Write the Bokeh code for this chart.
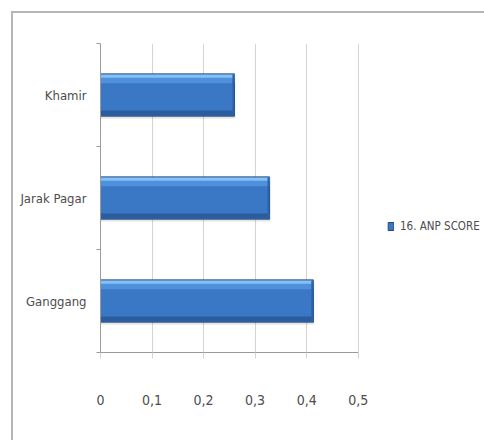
from bokeh.plotting import figure
from bokeh.models import Range1d, FixedTicker, Legend, LegendItem, ColumnDataSource
from bokeh.embed import file_html
from bokeh.resources import INLINE

# Data: categories listed bottom to top, with their ANP scores
categories = ["Ganggang", "Jarak Pagar", "Khamir"]
scores = [0.413, 0.328, 0.26]
series_name = "16. ANP SCORE"
x_ticks = [0, 0.1, 0.2, 0.3, 0.4, 0.5]
x_tick_labels = ["0", "0,1", "0,2", "0,3", "0,4", "0,5"]

FONT = "DejaVu Sans Condensed, Liberation Sans"
TEXT = "#4d4d4d"
EDGE = "#b5b5b5"

pos = [i + 0.5 for i in range(len(categories))]
src = ColumnDataSource(dict(y=pos, score=scores, cat=categories))

# chart-area border (top and left edges) drawn behind a transparent canvas border
border_css = (
    f"linear-gradient({EDGE},{EDGE}) 11px 11px / 473px 2px no-repeat, "
    f"linear-gradient({EDGE},{EDGE}) 11px 11px / 2px 429px no-repeat, white"
)

# the frame runs on to the right edge so the legend sits inside it;
# axis and grid stop at the last tick (0.5)
p = figure(width=484, height=440, output_backend="svg", toolbar_location=None,
           x_range=Range1d(0, 0.745), y_range=Range1d(0, len(categories)),
           styles={"background": border_css})
p.min_border_left = 100
p.min_border_right = 0
p.min_border_top = 43
p.min_border_bottom = 88
p.outline_line_color = None
p.background_fill_color = "white"
p.border_fill_color = None

# grid
p.ygrid.grid_line_color = None
p.xgrid.ticker = FixedTicker(ticks=x_ticks)
p.xgrid.grid_line_color = "#d4d4d4"
p.xgrid.grid_line_width = 1

# x axis
xa = p.xaxis[0]
xa.ticker = FixedTicker(ticks=x_ticks)
xa.bounds = (x_ticks[0], x_ticks[-1])
xa.major_label_overrides = {t: s for t, s in zip(x_ticks, x_tick_labels)}
xa.axis_line_color = "#9a9a9a"
xa.major_tick_line_color = "#d4d4d4"
xa.major_tick_in = 0
xa.major_tick_out = 6
xa.minor_tick_line_color = None
xa.major_label_standoff = 36
xa.major_label_text_font = FONT
xa.major_label_text_font_size = "14px"
xa.major_label_text_color = TEXT

# y axis: labels at category centres, tick marks between categories
ya = p.yaxis[0]
ya.ticker = FixedTicker(ticks=pos, minor_ticks=list(range(len(categories) + 1)))
ya.major_label_overrides = {y: c for y, c in zip(pos, categories)}
ya.axis_line_color = "#9a9a9a"
ya.major_tick_line_color = None
ya.major_tick_out = 0
ya.major_tick_in = 0
ya.minor_tick_line_color = "#9a9a9a"
ya.minor_tick_out = 4
ya.minor_tick_in = 0
ya.major_label_standoff = 10
ya.major_label_text_font = FONT
ya.major_label_text_font_size = "13px"
ya.major_label_text_color = TEXT

H = 0.41

# soft shadow under each bar
p.hbar(y=[y - 0.012 for y in pos], right=[s + 0.001 for s in scores], left=0,
       height=H, fill_color="#000000", fill_alpha=0.12, line_color=None)
p.hbar(y=[y - 0.025 for y in pos], right=[s + 0.002 for s in scores], left=0,
       height=H, fill_color="#000000", fill_alpha=0.08, line_color=None)

# bar body
body = p.hbar(y="y", right="score", left=0, height=H, source=src,
              fill_color="#3a77c5", line_color="#22497f", line_width=1)
# shading bands: dark lower edge, lighter upper bevel
p.hbar(y=[y - H / 2 + 0.03 for y in pos], right=scores, left=0, height=0.05,
       fill_color="#2a5c9e", line_color=None)
p.hbar(y=[y + H / 2 - 0.06 for y in pos], right=scores, left=0, height=0.06,
       fill_color="#4f90dc", line_color=None)
p.hbar(y=[y + H / 2 - 0.022 for y in pos], right=scores, left=0, height=0.03,
       fill_color="#84c0f4", line_color=None)
# right-end bevel
p.hbar(y=pos, right=scores, left=[s - 0.004 for s in scores], height=H - 0.01,
       fill_color="#2d62a8", line_color=None)

legend = Legend(items=[LegendItem(label=series_name, renderers=[body])],
                location=(287, 119), orientation="vertical")
legend.border_line_color = None
legend.background_fill_alpha = 0
legend.margin = 0
legend.padding = 0
legend.glyph_width = 7
legend.glyph_height = 10
legend.label_standoff = 6
legend.label_text_font = FONT
legend.label_text_font_size = "11.5px"
legend.label_text_color = TEXT
p.add_layout(legend)

open("out.html", "w").write(file_html(p, INLINE))
